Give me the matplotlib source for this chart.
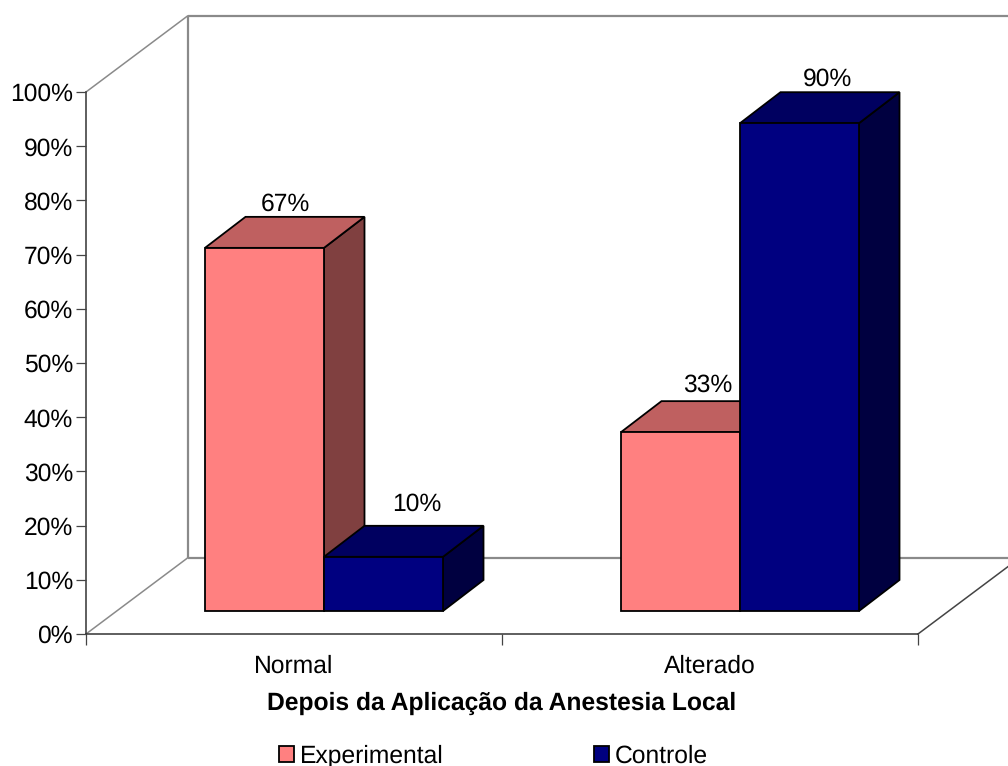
import matplotlib
matplotlib.use("Agg")
import matplotlib.pyplot as plt
from matplotlib.patches import Patch, Polygon
from matplotlib.transforms import Affine2D

# Chart data
categories = ["Normal", "Alterado"]
series_names = ["Experimental", "Controle"]
experimental = [67, 33]
controle = [10, 90]
y_ticks = [0, 10, 20, 30, 40, 50, 60, 70, 80, 90, 100]

# Pixel nudges of the value labels, relative to the top face of each bar
label_nudges = {
    "Experimental": [(1, 6), (7, 9)],
    "Controle": [(13, 15), (8, 6)],
}

# Face colours of each series: front, top, side
face_colours = {
    "Experimental": ("#FF8080", "#BF6060", "#804040"),
    "Controle": ("#000080", "#000060", "#000040"),
}

W, H, DPI = 1008, 766, 100
plt.rcParams["font.family"] = ["Liberation Sans", "DejaVu Sans"]
plt.rcParams["text.hinting"] = "no_hinting"
FS = 17.75

fig = plt.figure(figsize=(W / DPI, H / DPI), dpi=DPI, facecolor="white")
ax = fig.add_axes([86 / W, 1 - 634 / H, 832 / W, 542 / H])
ax.set_xlim(0, 2)
ax.set_ylim(0, 100)

WALL_DX, WALL_DY = 101.5, 76      # depth of the chart box, in pixels
FRONT_DX, FRONT_DY = 30.5, 23     # gap between the box front and the bars
BAR_DX, BAR_DY = 40.5, 31         # depth of each bar
BAR_WIDTH = 119 / 416             # bar width in category units


def shifted(dx, dy):
    """Data transform moved by a pixel offset, used for the oblique depth."""
    return ax.transData + Affine2D().translate(dx, dy)


# Walls and floor of the box
GREY = "#8A8A8A"
back = shifted(WALL_DX, WALL_DY)
wall_kw = dict(color=GREY, lw=1.6, clip_on=False, zorder=1, solid_capstyle="butt")
ax.plot([0, 0], [0, 100], transform=back, **wall_kw)
ax.plot([0, 2], [100, 100], transform=back, **wall_kw)
ax.plot([0, 2], [0, 0], transform=back, **wall_kw)
for x, y, colour in [(0, 100, GREY), (0, 0, GREY), (2, 0, "#444444")]:
    p0 = ax.transData.transform((x, y))
    line = plt.Line2D([p0[0], p0[0] + WALL_DX], [p0[1], p0[1] + WALL_DY],
                      transform=None, color=colour, lw=1.1, clip_on=False, zorder=1)
    ax.add_line(line)

# Bars, drawn left to right so nearer faces cover the ones behind
front = shifted(FRONT_DX, FRONT_DY)
front_back = shifted(FRONT_DX + BAR_DX, FRONT_DY + BAR_DY)
edge_kw = dict(edgecolor="black", linewidth=1.3, clip_on=False, joinstyle="miter")
z = 2
for i, cat in enumerate(categories):
    for j, (name, vals) in enumerate(zip(series_names, [experimental, controle])):
        v = vals[i]
        x0 = i + 0.5 + (j - 1) * BAR_WIDTH - 0.5 / 416
        x1 = x0 + BAR_WIDTH
        col_front, col_top, col_side = face_colours[name]
        f = lambda p: front.transform(p)
        b = lambda p: front_back.transform(p)
        top = Polygon([f((x0, v)), f((x1, v)), b((x1, v)), b((x0, v))], closed=True,
                      transform=None, facecolor=col_top, zorder=z, **edge_kw)
        side = Polygon([f((x1, 0)), b((x1, 0)), b((x1, v)), f((x1, v))], closed=True,
                       transform=None, facecolor=col_side, zorder=z, **edge_kw)
        ax.add_patch(side)
        ax.add_patch(top)
        ax.bar(x0, v, width=BAR_WIDTH, align="edge", color=col_front, transform=front,
               zorder=z + 0.5, **edge_kw)
        tx, ty = b(((x0 + x1) / 2, v))
        nudge_x, nudge_y = label_nudges[name][i]
        ax.text(tx - BAR_DX / 2 + nudge_x, ty + nudge_y, f"{v}%", transform=None,
                ha="center", va="baseline", fontsize=FS, color="black", zorder=10)
        z += 1

# Axes
for s in ("top", "right"):
    ax.spines[s].set_visible(False)
for s in ("left", "bottom"):
    ax.spines[s].set_color("#333333")
    ax.spines[s].set_linewidth(1.1)
    ax.spines[s].set_zorder(1.5)
ax.patch.set_alpha(0)

ax.set_yticks(y_ticks, [f"{t}%" for t in y_ticks])
ax.tick_params(axis="y", length=7.2, width=0.9, color="#444444", pad=2.2, labelsize=FS)
ax.set_xticks([0, 1, 2], ["", "", ""])
ax.tick_params(axis="x", which="major", length=8, width=0.9, color="#444444")
ax.set_xticks([0.5, 1.5], categories, minor=True)
ax.tick_params(axis="x", which="minor", length=0, pad=15, labelsize=FS)

fig.text(502 / W, 1 - 710 / H, "Depois da Aplicação da Anestesia Local", ha="center",
         va="baseline", fontsize=FS, fontweight="bold")

# Legend along the bottom edge
handles = [Patch(facecolor=face_colours[n][0], edgecolor="black", linewidth=1.3)
           for n in series_names]
fig.legend(handles, series_names, loc="lower left", ncol=2,
           bbox_to_anchor=(279 / W, 1 - 768 / H), frameon=False, fontsize=FS,
           handlelength=0.61, handleheight=0.61, handletextpad=0.24,
           columnspacing=6.1, borderpad=0, borderaxespad=0, labelspacing=0)

fig.savefig("out.png", dpi=DPI, facecolor="white")
